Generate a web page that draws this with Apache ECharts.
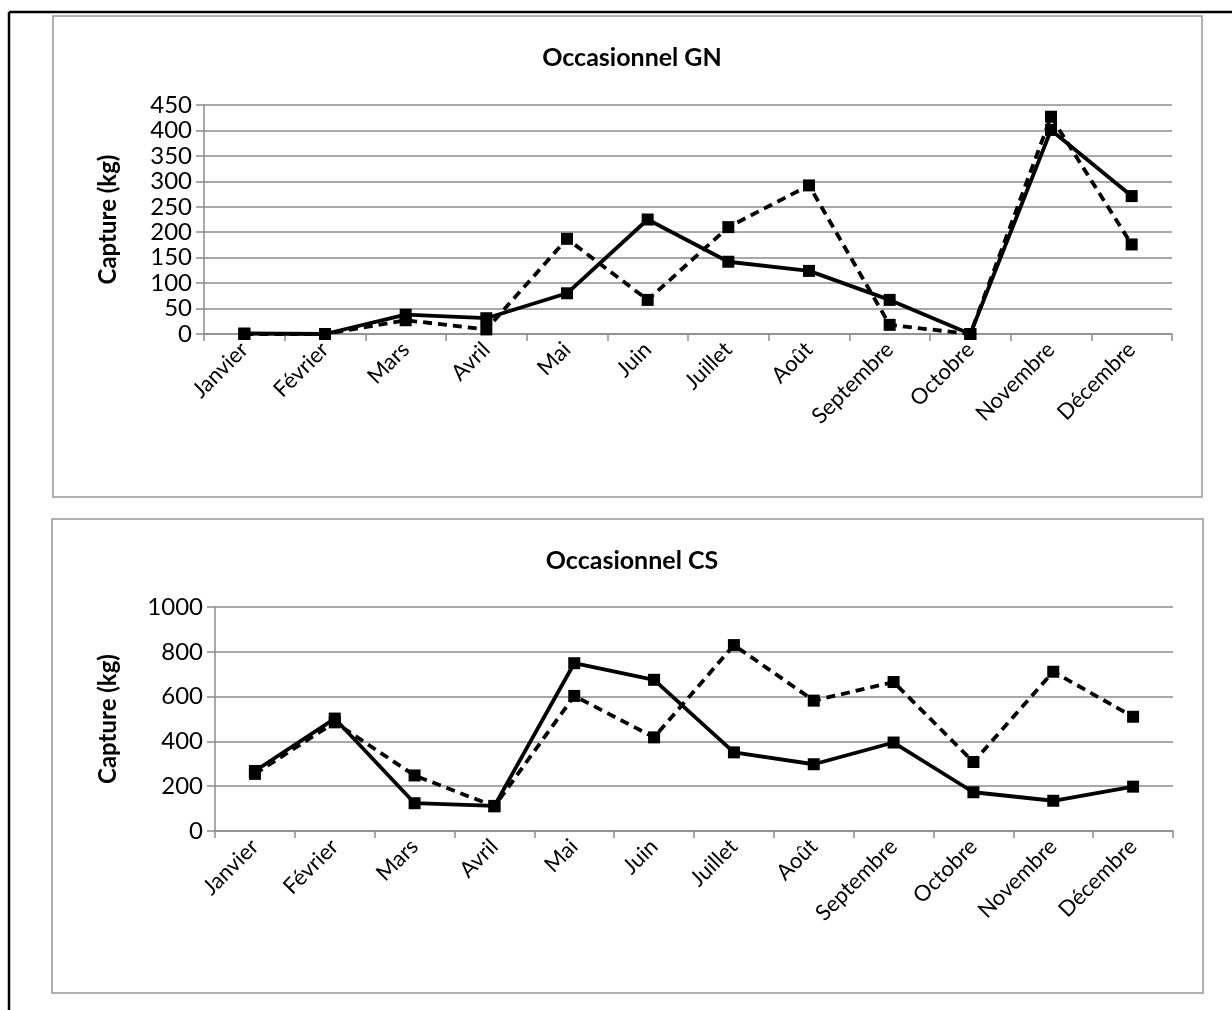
<!DOCTYPE html>
<html>
<head>
<meta charset="utf-8">
<script src="https://cdn.jsdelivr.net/npm/echarts@6/dist/echarts.min.js"></script>
<style>
html,body{margin:0;padding:0;background:#fff;}
#c{width:1232px;height:1010px;}
</style>
</head>
<body>
<div id="c"></div>
<script>
const months = ['Janvier','Février','Mars','Avril','Mai','Juin','Juillet','Août','Septembre','Octobre','Novembre','Décembre'];
const titleGN = 'Occasionnel GN';
const titleCS = 'Occasionnel CS';
const yName = 'Capture (kg)';
const gnSolid  = [1, 0, 38, 31, 80, 225, 142, 124, 67, 0, 401, 271];
const gnDashed = [0, 0, 27, 9, 187, 67, 210, 292, 18, 0, 427, 176];
const csSolid  = [268, 502, 124, 112, 749, 675, 351, 298, 395, 173, 135, 198];
const csDashed = [255, 485, 248, 110, 603, 418, 830, 582, 665, 308, 711, 510];

const FONT = 'Lato, sans-serif';
const GRAY = '#8c8c8c';

function xAxis(gi){
  return {
    type:'category', gridIndex:gi, data:months, boundaryGap:true,
    axisLine:{show:true, lineStyle:{color:GRAY, width:1.5}},
    axisTick:{show:true, interval:0, length:7, lineStyle:{color:GRAY, width:1.5}},
    axisLabel:{interval:0, rotate:45, margin:12, color:'#000', fontFamily:FONT, fontSize:22},
    splitLine:{show:false}
  };
}
function yAxis(gi, max, interval, gap){
  return {
    type:'value', gridIndex:gi, min:0, max:max, interval:interval,
    name:yName, nameLocation:'middle', nameGap:gap, nameRotate:90,
    nameTextStyle:{color:'#000', fontFamily:FONT, fontSize:24, fontWeight:'bold'},
    axisLine:{show:true, lineStyle:{color:GRAY, width:1.5}},
    axisTick:{show:true, length:8, lineStyle:{color:GRAY, width:1.5}},
    axisLabel:{color:'#000', fontFamily:FONT, fontSize:24, margin:12, formatter:function(v){return String(v);}},
    splitLine:{show:true, lineStyle:{color:GRAY, width:1.5}}
  };
}
function series(data, gi, dashed){
  return {
    type:'line', xAxisIndex:gi, yAxisIndex:gi, data:data,
    symbol:'rect', symbolSize:12, showSymbol:true,
    itemStyle:{color:'#000'},
    lineStyle:{color:'#000', width:3.8, type: dashed ? [9,6] : 'solid'},
    z: dashed ? 3 : 4, animation:false
  };
}

const chart = echarts.init(document.getElementById('c'), null, {renderer:'canvas'});
chart.setOption({
  backgroundColor:'#fff',
  animation:false,
  title:[
    {text:titleGN, left:627, top:40, textAlign:'center', textStyle:{color:'#000', fontFamily:FONT, fontSize:25, fontWeight:'bold'}},
    {text:titleCS, left:627, top:543, textAlign:'center', textStyle:{color:'#000', fontFamily:FONT, fontSize:25, fontWeight:'bold'}}
  ],
  graphic:[
    {type:'line', shape:{x1:9, y1:12, x2:1232, y2:12}, style:{stroke:'#000', lineWidth:2.5}, z:-1},
    {type:'line', shape:{x1:9, y1:12, x2:9, y2:1010}, style:{stroke:'#000', lineWidth:2.5}, z:-1},
    {type:'rect', shape:{x:53, y:16, width:1149, height:481}, style:{fill:'none', stroke:'#969696', lineWidth:1.5}, z:-1},
    {type:'rect', shape:{x:52, y:519, width:1151, height:474}, style:{fill:'none', stroke:'#969696', lineWidth:1.5}, z:-1}
  ],
  grid:[
    {left:204, right:60, top:105, height:229},
    {left:215, right:59, top:607, height:224}
  ],
  xAxis:[xAxis(0), xAxis(1)],
  yAxis:[yAxis(0, 450, 50, 84), yAxis(1, 1000, 200, 95)],
  series:[
    series(gnDashed, 0, true),
    series(gnSolid, 0, false),
    series(csDashed, 1, true),
    series(csSolid, 1, false)
  ]
});
</script>
</body>
</html>
